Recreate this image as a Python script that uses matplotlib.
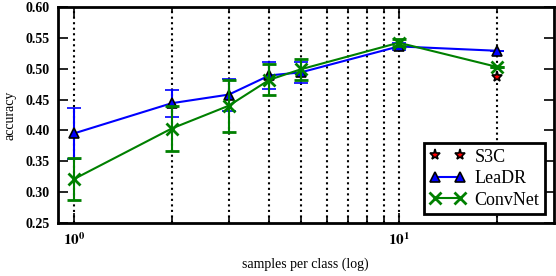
import matplotlib
matplotlib.use("Agg")
import matplotlib.pyplot as plt
from matplotlib.lines import Line2D
from matplotlib.ticker import FixedLocator, NullFormatter

plt.rcParams['font.family'] = ['Liberation Serif', 'DejaVu Serif']
plt.rcParams['mathtext.fontset'] = 'stix'

samples = [1, 2, 3, 4, 5, 10, 20]
leadr_acc = [0.395, 0.444, 0.458, 0.489, 0.494, 0.536, 0.529]
leadr_err = [0.041, 0.022, 0.026, 0.022, 0.017, 0.006, 0.0]
convnet_acc = [0.321, 0.403, 0.440, 0.482, 0.499, 0.542, 0.503]
convnet_err = [0.034, 0.036, 0.042, 0.025, 0.017, 0.006, 0.0]
s3c_x = [20]
s3c_acc = [0.486]

yticks = [0.25, 0.30, 0.35, 0.40, 0.45, 0.50, 0.55, 0.60]

s3c_style = dict(ls='none', marker='*', ms=8, mfc='red', mec='black', mew=1.2)
leadr_style = dict(color='blue', lw=1.5, marker='^', ms=7, mfc='blue', mec='black', mew=1.2)
convnet_style = dict(color='green', lw=1.5, marker='x', ms=8, mew=2)

fig = plt.figure(figsize=(5.56, 2.76), dpi=100)
ax = fig.add_axes([0.104, 0.192, 0.892, 0.783])

ax.plot(s3c_x, s3c_acc, zorder=5, **s3c_style)
ax.errorbar(samples, leadr_acc, yerr=leadr_err, capsize=5, capthick=1.5,
            elinewidth=1.5, zorder=3, **leadr_style)
ax.errorbar(samples, convnet_acc, yerr=convnet_err, capsize=5, capthick=1.5,
            elinewidth=1.5, zorder=4, **convnet_style)

ax.set_xscale('log')
ax.set_xlim(0.893, 30)
ax.set_ylim(0.25, 0.60)
ax.set_yticks(yticks)
ax.set_yticklabels(['%.2f' % v for v in yticks], fontweight='bold', fontsize=10)
ax.xaxis.set_minor_locator(FixedLocator([2, 3, 4, 5, 6, 7, 8, 9, 20]))
ax.xaxis.set_minor_formatter(NullFormatter())
ax.set_xticks([1, 10])
ax.set_xticklabels([r'$\mathbf{10^0}$', r'$\mathbf{10^1}$'], fontsize=11)
ax.grid(True, which='both', axis='x', ls=':', color='black', lw=1.5)
ax.tick_params(which='both', direction='in', top=True, right=True, width=1.2)
ax.tick_params(which='major', length=7, pad=6)
ax.tick_params(which='minor', length=4)
for s in ax.spines.values():
    s.set_linewidth(2)

ax.set_xlabel('samples per class (log)', fontsize=10, labelpad=7)
ax.set_ylabel('accuracy', fontsize=10, labelpad=6)

handles = [Line2D([], [], **s3c_style), Line2D([], [], **leadr_style),
           Line2D([], [], **convnet_style)]
leg = ax.legend(handles, ['S3C', 'LeaDR', 'ConvNet'], loc='lower right',
                numpoints=2, fontsize=13, fancybox=False, framealpha=1,
                edgecolor='black', borderpad=0.3, labelspacing=0.25,
                handletextpad=0.5, borderaxespad=0.5)
leg.get_frame().set_linewidth(2)

fig.savefig('out.png', dpi=100)
